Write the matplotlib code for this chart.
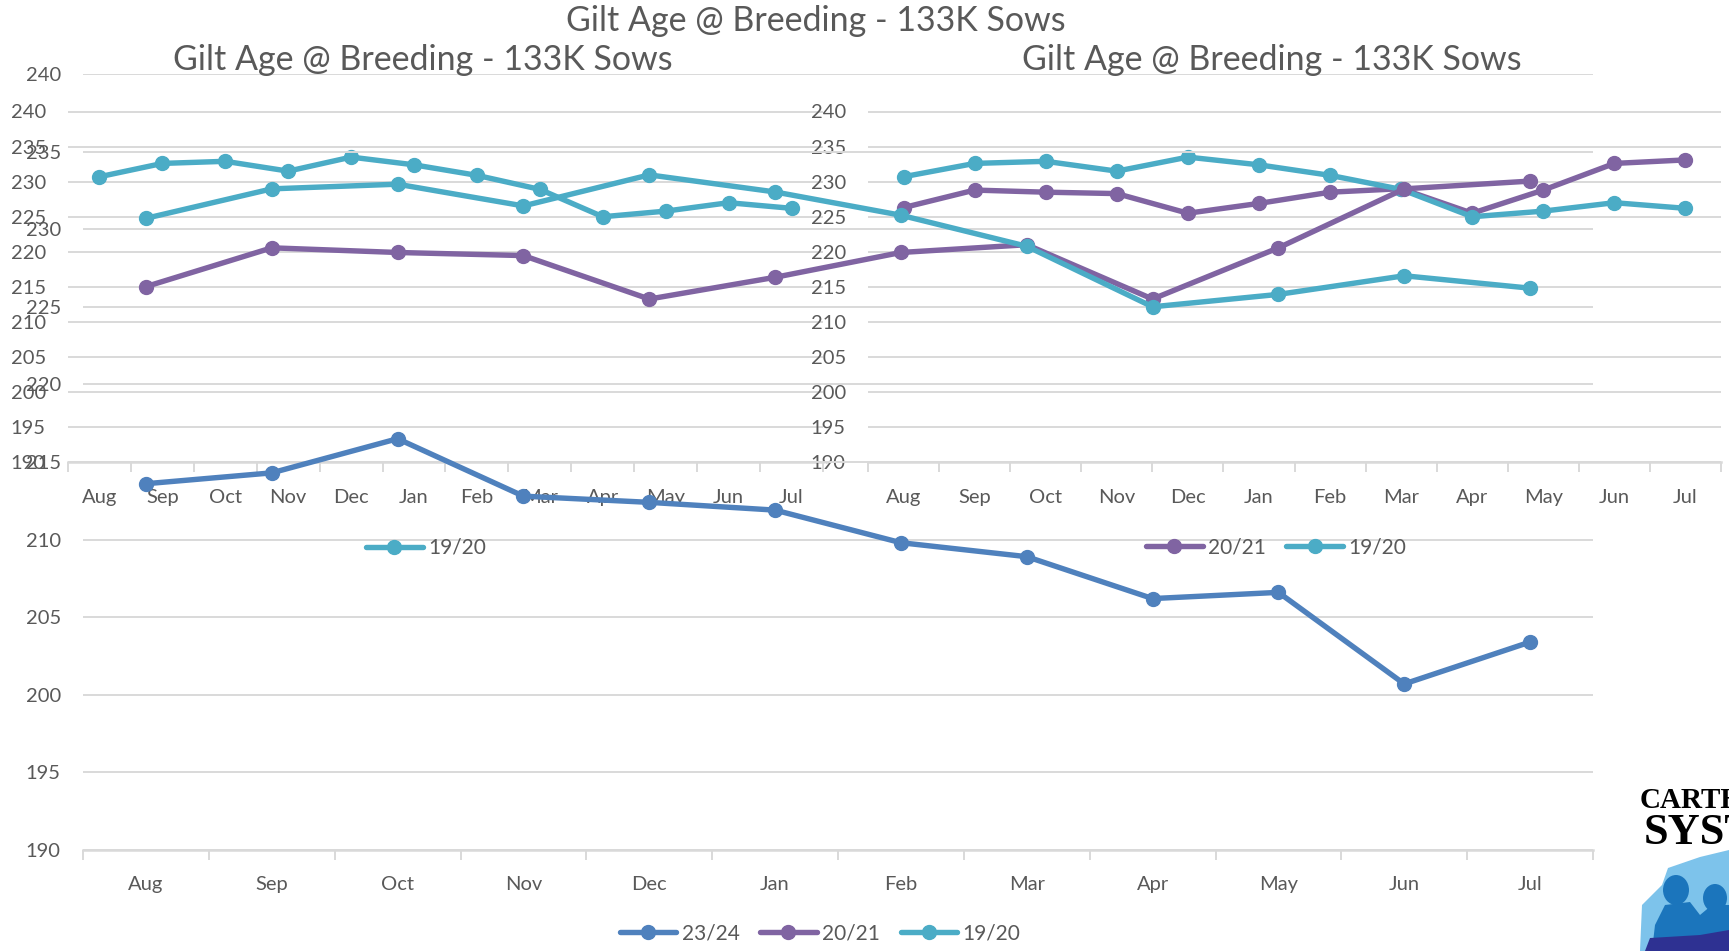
import matplotlib
matplotlib.use("Agg")
import matplotlib.pyplot as plt
import numpy as np
from matplotlib.patches import Polygon, Ellipse

MONTHS = ["Aug", "Sep", "Oct", "Nov", "Dec", "Jan", "Feb", "Mar", "Apr", "May", "Jun", "Jul"]
Y_TICKS = list(range(190, 245, 5))
TITLE = "Gilt Age @ Breeding - 133K Sows"

S_23_24 = [213.6, 214.3, 216.5, 212.8, 212.4, 211.9, 209.8, 208.9, 206.2, 206.6, 200.7, 203.4]
S_20_21 = [226.3, 228.8, 228.5, 228.3, 225.5, 226.9, 228.5, 229.0, 225.5, 228.8, 232.6, 233.1]
S_19_20 = [230.7, 232.6, 232.9, 231.5, 233.5, 232.4, 230.9, 228.9, 225.0, 225.8, 227.0, 226.2]

BLUE = "#4F81BD"
PURPLE = "#8064A2"
TEAL = "#4BACC6"
GRID = "#D9D9D9"
TEXT = "#595959"

W, H = 1729, 951
FS = 14.5
TITLE_FS = 24.5

plt.rcParams["font.family"] = ["Lato", "DejaVu Sans"]


def box(x0, x1, y0, y1):
    # pixel box (top-left origin) -> figure fraction rect
    return [x0 / W, 1 - y1 / H, (x1 - x0) / W, (y1 - y0) / H]


def style(ax):
    ax.set_facecolor("none")
    ax.set_xlim(-0.5, 11.5)
    ax.set_ylim(190, 240)
    ax.set_yticks(Y_TICKS)
    ax.set_xticks(range(len(MONTHS)), MONTHS)
    ax.set_xticks(np.arange(-0.5, 12, 1), minor=True)
    ax.grid(axis="y", color=GRID, lw=1.4)
    ax.set_axisbelow(True)
    for side in ["top", "left", "right"]:
        ax.spines[side].set_visible(False)
    ax.spines["bottom"].set_color(GRID)
    ax.spines["bottom"].set_linewidth(1.8)
    ax.tick_params(axis="y", length=0, pad=16, labelsize=FS, labelcolor=TEXT)
    ax.tick_params(axis="x", which="major", length=0, pad=19, labelsize=FS, labelcolor=TEXT)
    ax.tick_params(axis="x", which="minor", length=7, width=1.4, color=GRID)


def series(ax, vals, color, label):
    return ax.plot(range(len(vals)), vals, color=color, lw=3.9, marker="o", ms=10,
                   label=label, solid_capstyle="round", clip_on=False)[0]


def legend(handles, cx, cy, ncol):
    fig.legend(handles=handles, loc="center", bbox_to_anchor=(cx / W, 1 - cy / H),
               ncol=ncol, frameon=False, fontsize=FS + 0.5, labelcolor=TEXT,
               handlelength=2.7, handletextpad=0.25, columnspacing=1.0)


fig = plt.figure(figsize=(W / 100, H / 100), dpi=100)
fig.patch.set_facecolor("white")

# left overlay chart
ax_l = fig.add_axes(box(68, 823, 111.5, 462.3))
style(ax_l)
h = series(ax_l, S_19_20, TEAL, "19/20")
legend([h], 426, 548, 1)
fig.text(423 / W, 1 - 60 / H, TITLE, ha="center", va="center", fontsize=TITLE_FS, color=TEXT)

# right overlay chart
ax_r = fig.add_axes(box(868, 1721, 111.5, 462.3))
style(ax_r)
h1 = series(ax_r, S_20_21, PURPLE, "20/21")
h2 = series(ax_r, S_19_20, TEAL, "19/20")
legend([h1, h2], 1276, 547, 2)
fig.text(1272 / W, 1 - 60 / H, TITLE, ha="center", va="center", fontsize=TITLE_FS, color=TEXT)

# background chart, drawn last
ax_b = fig.add_axes(box(83, 1593, 74, 850))
style(ax_b)
b1 = series(ax_b, S_23_24, BLUE, "23/24")
b2 = series(ax_b, S_20_21, PURPLE, "20/21")
b3 = series(ax_b, S_19_20, TEAL, "19/20")
legend([b1, b2, b3], 820, 933, 3)
fig.text(816 / W, 1 - 21 / H, TITLE, ha="center", va="center", fontsize=TITLE_FS, color=TEXT)

# logo, cut off by the right edge
fig.text(1640 / W, 1 - 800 / H, "CARTHAGE", fontsize=21, fontweight="bold",
         family="Liberation Serif", color="black", va="center")
fig.text(1644 / W, 1 - 833 / H, "SYSTEMS", fontsize=32, fontweight="bold",
         family="Liberation Serif", color="black", va="center")
fpx = lambda pts: [(x / W, 1 - y / H) for x, y in pts]
fig.patches.append(Polygon(fpx([(1640, 951), (1642, 905), (1662, 885), (1668, 868), (1700, 857),
                                (1729, 850), (1729, 951)]), closed=True, facecolor="#7DC3EB",
                           edgecolor="none", transform=fig.transFigure, figure=fig))
fig.patches.append(Polygon(fpx([(1652, 951), (1655, 925), (1665, 905), (1690, 902), (1700, 915),
                                (1712, 905), (1729, 905), (1729, 951)]), closed=True,
                           facecolor="#1B75BC", edgecolor="none", transform=fig.transFigure, figure=fig))
fig.patches.append(Ellipse((1676 / W, 1 - 890 / H), 26 / W, 30 / H, facecolor="#1B75BC",
                           edgecolor="none", transform=fig.transFigure, figure=fig))
fig.patches.append(Ellipse((1715 / W, 1 - 898 / H), 24 / W, 28 / H, facecolor="#1B75BC",
                           edgecolor="none", transform=fig.transFigure, figure=fig))
fig.patches.append(Polygon(fpx([(1645, 951), (1650, 938), (1700, 935), (1729, 930), (1729, 951)]),
                           closed=True, facecolor="#2E3192", edgecolor="none",
                           transform=fig.transFigure, figure=fig))

fig.savefig("out.png", dpi=100)
